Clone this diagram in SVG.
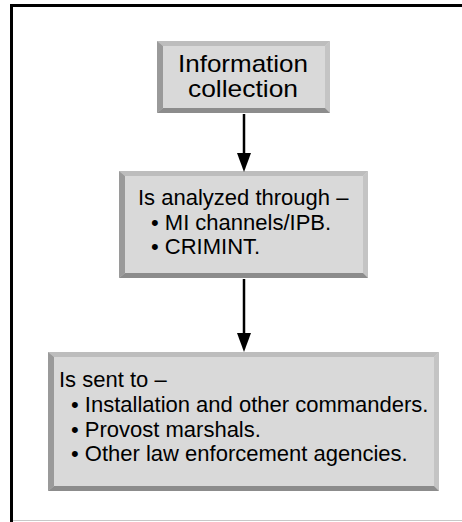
<svg xmlns="http://www.w3.org/2000/svg" width="462" height="522" viewBox="0 0 462 522">
<defs>
<style>
.fill{fill:#d9d9d9}
.bt{fill:#bdbdbd}
.bl{fill:#9a9a9a}
.br{fill:#c4c4c4}
.bb{fill:#8c8c8c}
.t1{font-family:"Liberation Sans",Arial,sans-serif;font-size:24px;fill:#000;text-anchor:middle}
.t2{font-family:"Liberation Sans",Arial,sans-serif;font-size:22px;fill:#000}
.conn{stroke:#000;stroke-width:2.5;fill:none}
</style>
</defs>
<rect width="462" height="522" fill="#fff"/>
<path d="M11.5,522 V5.5 H462" fill="none" stroke="#000" stroke-width="3"/>
<line x1="13" y1="520.5" x2="462" y2="520.5" stroke="#c8c8c8" stroke-width="1"/>

<g id="node1">
<rect x="157" y="41" width="173" height="72" class="fill"/>
<polygon points="157,41 330,41 325,46 163,46" class="bt"/>
<polygon points="157,41 163,46 163,108 157,113" class="bl"/>
<polygon points="330,41 330,113 325,108 325,46" class="br"/>
<polygon points="157,113 163,108 325,108 330,113" class="bb"/>
<text x="243" y="71.5" class="t1" textLength="130" lengthAdjust="spacingAndGlyphs">Information</text>
<text x="243" y="96.5" class="t1" textLength="110" lengthAdjust="spacingAndGlyphs">collection</text>
</g>

<g id="node2">
<rect x="119" y="171" width="249" height="107" class="fill"/>
<polygon points="119,171 368,171 363,176 125,176" class="bt"/>
<polygon points="119,171 125,176 125,273 119,278" class="bl"/>
<polygon points="368,171 368,278 363,273 363,176" class="br"/>
<polygon points="119,278 125,273 363,273 368,278" class="bb"/>
<text x="138" y="205" class="t2">Is analyzed through –</text>
<text x="151" y="229.5" class="t2">• MI channels/IPB.</text>
<text x="151" y="254" class="t2">• CRIMINT.</text>
</g>

<g id="node3">
<rect x="48" y="352" width="391" height="139" class="fill"/>
<polygon points="48,352 439,352 434,357 54,357" class="bt"/>
<polygon points="48,352 54,357 54,486 48,491" class="bl"/>
<polygon points="439,352 439,491 434,486 434,357" class="br"/>
<polygon points="48,491 54,486 434,486 439,491" class="bb"/>
<text x="59" y="387" class="t2">Is sent to –</text>
<text x="71" y="412" class="t2">• Installation and other commanders.</text>
<text x="71" y="436.5" class="t2">• Provost marshals.</text>
<text x="71" y="461" class="t2">• Other law enforcement agencies.</text>
</g>

<g id="connectors">
<line x1="244" y1="114" x2="244" y2="156" class="conn"/>
<path d="M237,153 L251,153 L244,172 Z" fill="#000"/>
<line x1="244" y1="279" x2="244" y2="336" class="conn"/>
<path d="M237,333 L251,333 L244,352 Z" fill="#000"/>
</g>
</svg>
